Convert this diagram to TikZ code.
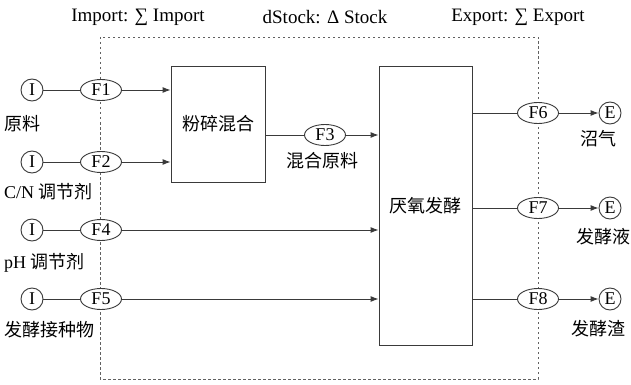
\documentclass[tikz,border=0pt]{standalone}
\usepackage{fontspec}
\setmainfont{Liberation Serif}
\newfontfamily\cjk{Noto Sans CJK SC}
\usetikzlibrary{arrows.meta,shapes.geometric}
\definecolor{ln}{HTML}{3A3A3A}
\tikzset{
  flow/.style={ellipse,draw=ln,fill=white,line width=0.9pt,minimum width=41pt,minimum height=21pt,inner sep=0pt,font=\fontsize{18}{18}\selectfont},
  term/.style={circle,draw=ln,fill=white,line width=0.9pt,minimum size=22pt,inner sep=0pt,font=\fontsize{18}{18}\selectfont},
  proc/.style={rectangle,draw=ln,line width=0.9pt,inner sep=0pt,font=\cjk\fontsize{18}{18}\selectfont},
  lab/.style={inner sep=0pt,font=\cjk\fontsize{18}{18}\selectfont},
  hdr/.style={inner sep=0pt,font=\fontsize{19}{19}\selectfont},
  conn/.style={draw=ln,line width=0.9pt},
  arr/.style={conn,-{Latex[length=8pt,width=6pt]}},
  bound/.style={draw=ln!80,line width=0.9pt,dash pattern=on 2.5pt off 2.5pt}
}
\begin{document}
\begin{tikzpicture}[x=1pt,y=-1pt]
\useasboundingbox (0,0) rectangle (631,385);
% system boundary
\coordinate (bTL) at (100,37);
\coordinate (bBR) at (538,379);
\draw[bound] (bTL) rectangle (bBR);
% headers
\node[hdr] (h1) at (138,17) {Import: ∑ Import};
\node[hdr] (h2) at (325,17) {dStock: Δ Stock};
\node[hdr] (h3) at (518,17) {Export: ∑ Export};
% processes
\node[proc,minimum width=94pt,minimum height=116pt] (p1) at (218,124) {粉碎混合};
\node[proc,minimum width=93pt,minimum height=279pt] (p2) at (425.5,205.5) {厌氧发酵};
% inputs
\node[term] (I1) at (32,90) {I};
\node[flow] (F1) at (101,90) {F1};
\node[term] (I2) at (32,162) {I};
\node[flow] (F2) at (101,162) {F2};
\node[term] (I4) at (32,230) {I};
\node[flow] (F4) at (101,230) {F4};
\node[term] (I5) at (32,299) {I};
\node[flow] (F5) at (101,299) {F5};
\node[lab,anchor=west] (l1) at (4,124) {原料};
\node[lab,anchor=west] (l2) at (4,192) {\fontspec{Liberation Serif}C/N \cjk 调节剂};
\node[lab,anchor=west] (l4) at (4,263) {\fontspec{Liberation Serif}pH \cjk 调节剂};
\node[lab,anchor=west] (l5) at (4,330) {发酵接种物};
% middle
\node[flow] (F3) at (325,135) {F3};
\node[lab] (l3) at (322,161) {混合原料};
% outputs
\node[flow] (F6) at (538,113) {F6};
\node[term] (E6) at (610,113) {E};
\node[flow] (F7) at (538,208) {F7};
\node[term] (E7) at (610,208) {E};
\node[flow] (F8) at (538,299) {F8};
\node[term] (E8) at (610,299) {E};
\node[lab] (l6) at (598,139) {沼气};
\node[lab] (l7) at (603,237) {发酵液};
\node[lab] (l8) at (598,329) {发酵渣};
% connectors
\draw[conn] (I1) -- (F1);
\draw[conn] (I2) -- (F2);
\draw[conn] (I4) -- (F4);
\draw[conn] (I5) -- (F5);
\draw[arr] (F1) -- (F1 -| p1.west);
\draw[arr] (F2) -- (F2 -| p1.west);
\draw[conn] (F3 -| p1.east) -- (F3);
\draw[arr] (F3) -- (F3 -| p2.west);
\draw[arr] (F4) -- (F4 -| p2.west);
\draw[arr] (F5) -- (F5 -| p2.west);
\draw[conn] (F6 -| p2.east) -- (F6);
\draw[conn] (F7 -| p2.east) -- (F7);
\draw[conn] (F8 -| p2.east) -- (F8);
\draw[arr] (F6) -- (E6);
\draw[arr] (F7) -- (E7);
\draw[arr] (F8) -- (E8);
\end{tikzpicture}
\end{document}
